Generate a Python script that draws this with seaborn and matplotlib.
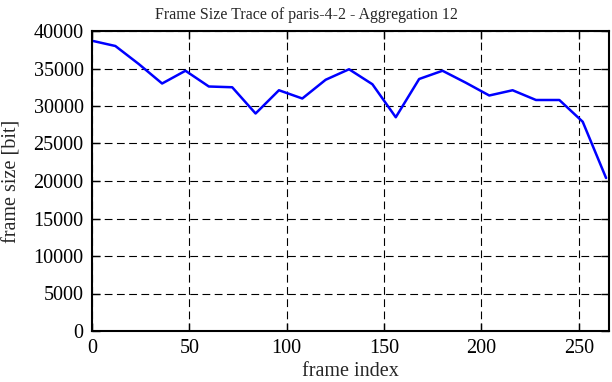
import pandas as pd
import matplotlib
matplotlib.use("Agg")
import matplotlib.pyplot as plt
import seaborn as sns

# frame index (aggregation of 12 frames) and frame size in bit
frame_index = [0, 12, 24, 36, 48, 60, 72, 84, 96, 108, 120, 132,
               144, 156, 168, 180, 192, 204, 216, 228, 240, 252, 264]
frame_size = [38700, 38000, 35600, 33000, 34700, 32600, 32500, 29000,
              32100, 31000, 33500, 34900, 32900, 28500, 33600, 34700,
              33100, 31400, 32100, 30800, 30800, 27900, 20400]
x_ticks = [0, 50, 100, 150, 200, 250]
y_ticks = [0, 5000, 10000, 15000, 20000, 25000, 30000, 35000, 40000]

df = pd.DataFrame({"frame index": frame_index, "frame size [bit]": frame_size})

sns.set_style("ticks")
plt.rcParams['font.family'] = ['Liberation Serif', 'DejaVu Serif']

fig = plt.figure(figsize=(6.12, 3.82), dpi=100)
ax = fig.add_axes([92 / 612, 51 / 382, 517 / 612, 300 / 382])

sns.lineplot(data=df, x="frame index", y="frame size [bit]", ax=ax,
             color="#0000ff", linewidth=1.8)

ax.set_xlim(0, 265.5)
ax.set_ylim(0, 40000)
ax.set_xticks(x_ticks)
ax.set_yticks(y_ticks)
ax.grid(True, color="black", linestyle=(0, (7, 4)), linewidth=0.8)
ax.tick_params(direction="in", length=6, width=1, top=True, right=True,
               labelsize=14.5, colors="black", pad=6)
for s in ax.spines.values():
    s.set_linewidth(1.5)
    s.set_color("black")

ax.set_xlabel("frame index", fontsize=14.5, labelpad=3)
ax.set_ylabel("frame size [bit]", fontsize=14.5, labelpad=9)
# title centred on the whole canvas, as in the reference
fig.text(0.5, 1 - 19 / 382, "Frame Size Trace of paris-4-2 - Aggregation 12",
         ha="center", va="baseline", fontsize=11.5)

fig.savefig("out.png", dpi=100)
